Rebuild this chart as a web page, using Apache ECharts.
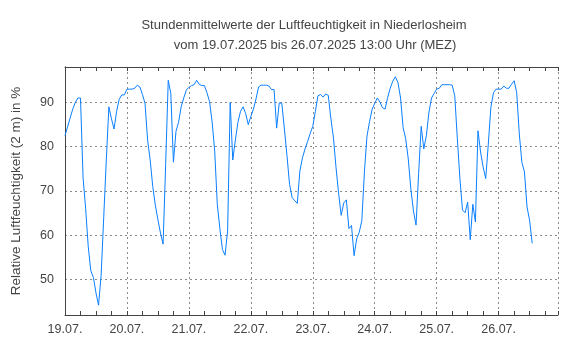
<!DOCTYPE html>
<html>
<head>
<meta charset="utf-8">
<script src="https://cdn.jsdelivr.net/npm/echarts@6/dist/echarts.min.js"></script>
<style>
  html, body { margin: 0; padding: 0; background: #fff; }
  #chart { width: 580px; height: 350px; }
</style>
</head>
<body>
<div id="chart"></div>
<script>
// Hourly mean relative humidity, Niederlosheim, 19.07.2025 00:00 - 26.07.2025 13:00
const titleLine1 = 'Stundenmittelwerte der Luftfeuchtigkeit in Niederlosheim';
const titleLine2 = 'vom 19.07.2025 bis 26.07.2025 13:00 Uhr (MEZ)';
const yAxisTitle = 'Relative Luftfeuchtigkeit (2 m) in %';

const dayLabels = ['19.07.', '20.07.', '21.07.', '22.07.', '23.07.', '24.07.', '25.07.', '26.07.'];
const yTickValues = [50, 60, 70, 80, 90];

// one value per hour, starting 19.07. 00:00
const humidity = [
  // 19.07.
  82.5, 84.5, 86.5, 88.5, 90, 91, 91, 73, 66, 57.5, 52, 50.5,
  47, 44.2, 51, 64, 77, 89, 86.3, 84, 88, 90.7, 91.7, 91.7,
  // 20.07.
  93, 93, 93, 93.2, 93.9, 93.5, 91.8, 89.8, 81.5, 77, 71, 66.8,
  63.5, 60.5, 58, 76, 95, 92, 76.5, 83.5, 85.5, 89, 91, 92.8,
  // 21.07.
  93.4, 93.8, 94, 95, 94.1, 93.8, 93.8, 92.2, 90.2, 85.6, 79, 67,
  61.5, 56.8, 55.5, 61, 90, 77, 81.5, 85.5, 88, 89, 87.5, 85,
  // 22.07.
  86.8, 88.5, 90.8, 93.5, 93.9, 93.9, 93.9, 93.7, 92.9, 92.9, 84.2, 89.9,
  89.8, 84, 78, 71.5, 68.5, 67.8, 67.2, 74.5, 77.5, 79.5, 81.2, 83,
  // 23.07.
  84.6, 88, 91.5, 91.8, 91.2, 91.9, 91.6, 86.4, 82, 75.3, 69.5, 64.5,
  67.3, 68, 61.5, 62.2, 55.4, 59.2, 60.7, 63.3, 74.3, 82.4, 85.7, 88.5,
  // 24.07.
  89.8, 91, 90.1, 88.8, 88.5, 91.1, 93.2, 94.8, 95.8, 94.5, 91, 84.3,
  81.8, 77.2, 70.4, 65.5, 62.3, 73.9, 84.6, 79.5, 82.5, 87.8, 91, 92,
  // 25.07.
  93, 93.2, 94, 94, 94, 94, 93.9, 91.5, 81.8, 72.8, 65.7, 65.1,
  67.5, 59, 67, 63, 83.6, 78.8, 75.4, 72.8, 80.6, 88.9, 92.2, 93,
  // 26.07.
  93, 93, 93.7, 93.2, 93.2, 94.1, 94.9, 92.2, 82.9, 76.5, 74.3, 66.4,
  63.4, 58.2
];

const seriesData = humidity.map((v, i) => [i, v]);

const textColor = '#444';
const frameColor = '#444';
const gridColor = '#8a8a8a';
const fontFamily = '"Liberation Sans", Arial, sans-serif';

function xAxisConfig(position, withLabels) {
  return {
    type: 'value',
    position: position,
    min: 0,
    max: 191,
    interval: 6,
    axisLine: { show: true, onZero: false, lineStyle: { color: frameColor, width: 1 } },
    axisTick: { show: true, inside: true, length: 4, lineStyle: { color: frameColor } },
    axisLabel: {
      show: withLabels,
      color: textColor,
      fontFamily: fontFamily,
      fontSize: 12.5,
      margin: 8,
      formatter: function (v) {
        return v % 24 === 0 ? (dayLabels[v / 24] || '') : '';
      }
    },
    splitLine: {
      show: withLabels,
      lineStyle: {
        color: [gridColor, 'rgba(0,0,0,0)', 'rgba(0,0,0,0)', 'rgba(0,0,0,0)'],
        type: [2, 3],
        width: 1
      }
    }
  };
}

function yAxisConfig(position, withLabels) {
  return {
    type: 'value',
    position: position,
    min: 42,
    max: 98,
    splitNumber: 5,
    axisLine: { show: true, lineStyle: { color: frameColor, width: 1 } },
    axisTick: { show: false },
    name: withLabels ? yAxisTitle : '',
    nameLocation: 'middle',
    nameGap: 42,
    nameTextStyle: { color: textColor, fontFamily: fontFamily, fontSize: 13.5 },
    axisLabel: {
      show: withLabels,
      color: textColor,
      fontFamily: fontFamily,
      fontSize: 12.5,
      margin: 11,
      formatter: function (v) {
        return yTickValues.indexOf(v) >= 0 ? String(v) : '';
      }
    },
    splitLine: {
      show: withLabels,
      lineStyle: { color: gridColor, type: [2, 3], width: 1 }
    }
  };
}

const chart = echarts.init(document.getElementById('chart'), null, { renderer: 'canvas' });
chart.setOption({
  backgroundColor: '#ffffff',
  animation: false,
  title: [
    {
      text: titleLine1,
      left: 299, top: 14, textAlign: 'center',
      textStyle: { color: textColor, fontFamily: fontFamily, fontSize: 13, fontWeight: 'normal' }
    },
    {
      text: titleLine2,
      left: 310, top: 34, textAlign: 'center',
      textStyle: { color: textColor, fontFamily: fontFamily, fontSize: 13, fontWeight: 'normal' }
    }
  ],
  grid: { left: 65, right: 22, top: 67, bottom: 35, containLabel: false },
  xAxis: [xAxisConfig('bottom', true), xAxisConfig('top', false)],
  yAxis: [yAxisConfig('left', true), yAxisConfig('right', false)],
  series: [{
    type: 'line',
    data: seriesData,
    xAxisIndex: 0,
    yAxisIndex: 0,
    showSymbol: false,
    symbol: 'none',
    lineStyle: { color: '#0a7fff', width: 1 },
    z: 3
  }]
});
</script>
</body>
</html>
